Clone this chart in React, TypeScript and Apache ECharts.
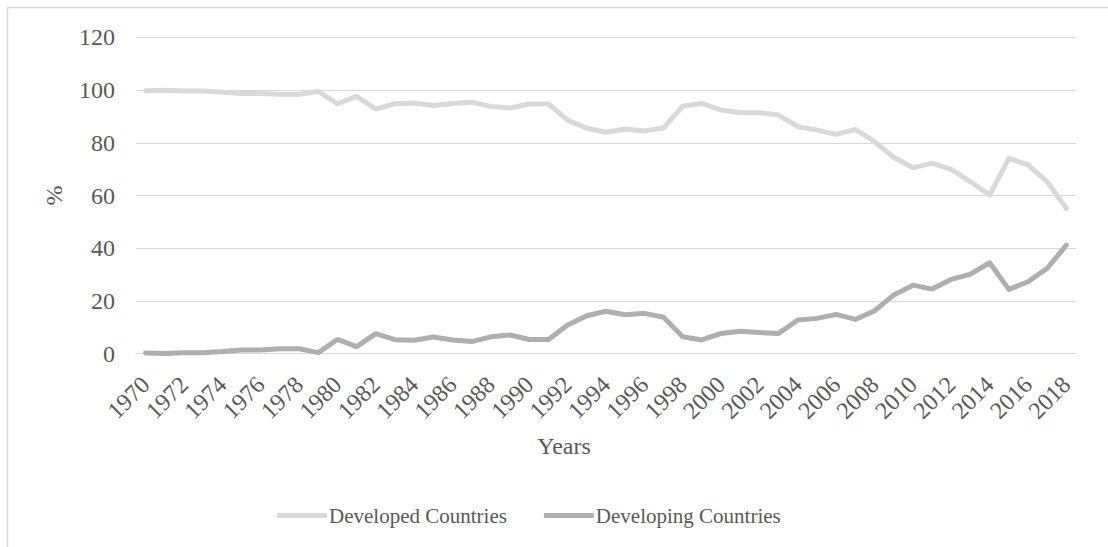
import React, { useEffect, useRef } from "react";
import * as echarts from "echarts";

// Share of total (%) by country group, 1970–2018
const years: string[] = [];
for (let y = 1970; y <= 2018; y++) years.push(String(y));

const developed: number[] = [
  99.7, 99.9, 99.6, 99.6, 99.2, 98.7, 98.7, 98.4, 98.4, 99.5,
  94.8, 97.6, 92.8, 94.8, 95.1, 94.1, 94.9, 95.4, 93.8, 93.2,
  94.7, 94.7, 88.6, 85.5, 84.0, 85.2, 84.5, 85.6, 93.9, 94.9,
  92.4, 91.4, 91.4, 90.5, 86.1, 84.8, 83.2, 85.1, 80.4, 74.5,
  70.5, 72.3, 69.9, 65.2, 60.2, 74.1, 71.6, 65.2, 55.1,
];

const developing: number[] = [
  0.25, 0.1, 0.4, 0.4, 0.8, 1.4, 1.4, 1.9, 1.9, 0.4,
  5.4, 2.7, 7.6, 5.3, 5.1, 6.3, 5.2, 4.6, 6.4, 7.1,
  5.4, 5.4, 10.9, 14.4, 16.1, 14.8, 15.3, 13.8, 6.4, 5.2,
  7.7, 8.5, 8.0, 7.7, 12.8, 13.4, 14.9, 13.0, 16.3, 22.3,
  26.0, 24.5, 28.2, 30.2, 34.5, 24.4, 27.3, 32.4, 41.2,
];

const yTicks = { min: 0, max: 120, interval: 20 };

const FONT = "'Liberation Serif', 'Times New Roman', serif";
const TEXT = "#595959";
const GRID = "#d9d9d9";

export default function App() {
  const ref = useRef<HTMLDivElement>(null);

  useEffect(() => {
    if (!ref.current) return;
    const chart = echarts.init(ref.current, undefined, { renderer: "svg" });
    chart.setOption({
      animation: false,
      backgroundColor: "#ffffff",
      textStyle: { fontFamily: FONT },
      grid: { left: 136, right: 32, top: 37.3, bottom: 193.3 },
      legend: {
        left: 277,
        top: 505,
        padding: 0,
        icon: "roundRect",
        itemWidth: 50,
        itemHeight: 5,
        itemGap: 37,
        textStyle: { fontFamily: FONT, fontSize: 21, color: TEXT, padding: [0, 0, 0, -3] },
        data: ["Developed Countries", "Developing Countries"],
      },
      xAxis: {
        type: "category",
        boundaryGap: true,
        data: years,
        axisTick: { show: false },
        axisLine: { show: true, lineStyle: { color: GRID, width: 1 } },
        axisLabel: {
          interval: 1,
          rotate: 45,
          margin: 27,
          fontSize: 24,
          fontFamily: FONT,
          color: TEXT,
        },
      },
      yAxis: {
        type: "value",
        min: yTicks.min,
        max: yTicks.max,
        interval: yTicks.interval,
        name: "%",
        nameLocation: "middle",
        nameGap: 70,
        nameTextStyle: { fontSize: 24, fontFamily: FONT, color: TEXT },
        axisLine: { show: false },
        axisTick: { show: false },
        axisLabel: { margin: 21, fontSize: 24, fontFamily: FONT, color: TEXT },
        splitLine: { lineStyle: { color: GRID, width: 1 } },
      },
      graphic: [
        {
          type: "line",
          shape: { x1: 7.5, y1: 7.5, x2: 1108, y2: 7.5 },
          style: { stroke: GRID, lineWidth: 1.5 },
        },
        {
          type: "line",
          shape: { x1: 7.5, y1: 7.5, x2: 7.5, y2: 547 },
          style: { stroke: GRID, lineWidth: 1.5 },
        },
        {
          type: "text",
          x: 564,
          y: 446,
          style: {
            text: "Years",
            font: `24px ${FONT}`,
            fill: TEXT,
            textAlign: "center",
            textVerticalAlign: "middle",
          },
        },
      ],
      series: [
        {
          name: "Developed Countries",
          type: "line",
          data: developed,
          symbol: "none",
          lineStyle: { color: "#d9d9d9", width: 5, cap: "round", join: "round" },
          itemStyle: { color: "#d9d9d9" },
        },
        {
          name: "Developing Countries",
          type: "line",
          data: developing,
          symbol: "none",
          lineStyle: { color: "#afafaf", width: 5, cap: "round", join: "round" },
          itemStyle: { color: "#afafaf" },
        },
      ],
    });
    return () => chart.dispose();
  }, []);

  return (
    <div
      ref={ref}
      style={{ position: "fixed", left: 0, top: 0, width: 1108, height: 547 }}
    />
  );
}
